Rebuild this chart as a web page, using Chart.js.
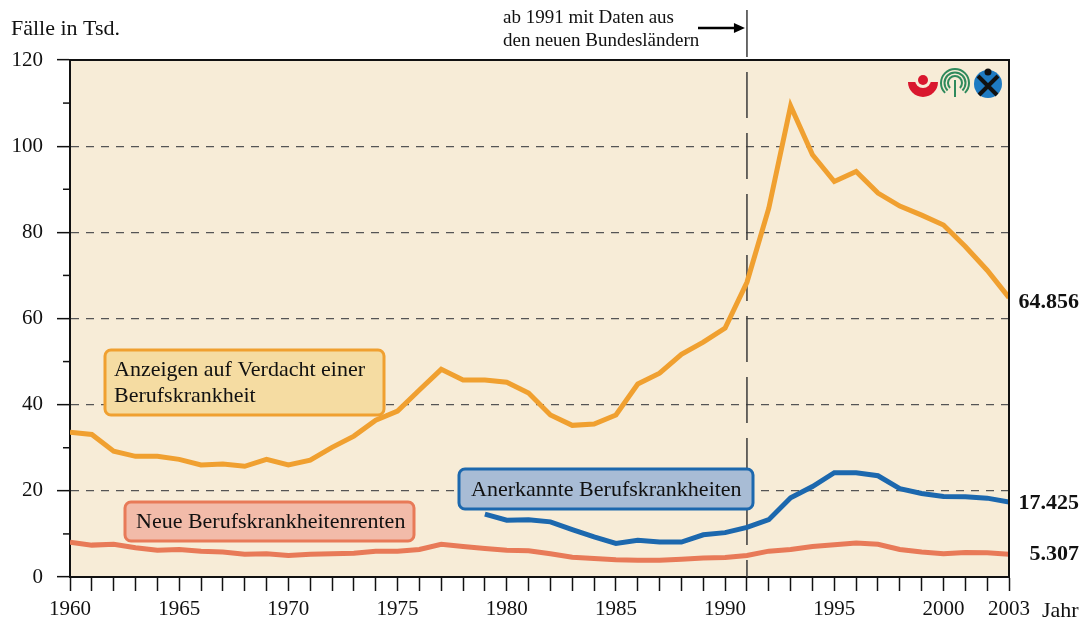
<!DOCTYPE html>
<html>
<head>
<meta charset="utf-8">
<script src="https://cdn.jsdelivr.net/npm/chart.js@4.4.1/dist/chart.umd.min.js"></script>
<style>
  html, body { margin: 0; padding: 0; background: #fff; }
  #wrap { width: 1081px; height: 623px; position: relative; }
</style>
</head>
<body>
<div id="wrap"><canvas id="bkChart"></canvas></div>
<script>
// years 1960..2003
const years = [];
for (let y = 1960; y <= 2003; y++) years.push(y);

const labelYears = [1960, 1965, 1970, 1975, 1980, 1985, 1990, 1995, 2000, 2003];

// Anzeigen auf Verdacht einer Berufskrankheit (Tsd.)
const anzeigen = [
  33.6, 33.1, 29.2, 28.0, 28.0, 27.3, 26.0, 26.2, 25.7, 27.3,
  26.0, 27.1, 30.1, 32.7, 36.4, 38.5, 43.4, 48.2, 45.7, 45.7,
  45.2, 42.7, 37.6, 35.2, 35.5, 37.6, 44.8, 47.3, 51.7, 54.5,
  57.8, 68.4, 85.6, 109.3, 98.0, 91.8, 94.1, 89.1, 86.1, 84.0,
  81.7, 76.7, 71.2, 64.856
];

// Anerkannte Berufskrankheiten (from 1979)
const anerkannt = [
  null, null, null, null, null, null, null, null, null, null,
  null, null, null, null, null, null, null, null, null, 14.6,
  13.2, 13.3, 12.8, 11.0, 9.3, 7.8, 8.5, 8.1, 8.1, 9.8,
  10.3, 11.5, 13.3, 18.4, 21.0, 24.2, 24.2, 23.5, 20.5, 19.4,
  18.7, 18.6, 18.3, 17.425
];

// Neue Berufskrankheitenrenten
const renten = [
  8.1, 7.4, 7.6, 6.8, 6.2, 6.4, 6.0, 5.8, 5.3, 5.4,
  5.0, 5.3, 5.4, 5.5, 6.0, 6.0, 6.4, 7.6, 7.1, 6.6,
  6.2, 6.1, 5.4, 4.6, 4.3, 4.0, 3.9, 3.9, 4.1, 4.4,
  4.5, 5.0, 6.0, 6.4, 7.1, 7.5, 7.9, 7.6, 6.4, 5.8,
  5.4, 5.7, 5.6, 5.307
];

const serif = '"Liberation Serif", "Times New Roman", serif';
const cOrange = '#F0A030';
const cBlue = '#1C68AE';
const cRed = '#E87A58';
const plotBg = '#F7ECD7';

const toPoints = arr => years.map((y, i) => ({ x: y, y: arr[i] }));

function roundBox(ctx, x, y, w, h, r, fill, stroke, lines) {
  ctx.save();
  ctx.beginPath();
  ctx.roundRect(x, y, w, h, r);
  ctx.fillStyle = fill;
  ctx.fill();
  ctx.lineWidth = 3;
  ctx.strokeStyle = stroke;
  ctx.stroke();
  ctx.fillStyle = '#111';
  ctx.font = '22px ' + serif;
  ctx.textBaseline = 'middle';
  ctx.textAlign = 'left';
  lines.forEach(l => ctx.fillText(l.t, l.x, l.y));
  ctx.restore();
}

const decor = {
  id: 'decor',
  beforeDraw(chart) {
    const { ctx, chartArea: a } = chart;
    ctx.save();
    ctx.fillStyle = plotBg;
    ctx.fillRect(a.left, a.top, a.right - a.left, a.bottom - a.top);
    ctx.restore();
  },
  beforeDatasetsDraw(chart) {
    const { ctx, chartArea: a, scales } = chart;
    const x91 = scales.x.getPixelForValue(1991);
    ctx.save();
    ctx.strokeStyle = '#3a3a3a';
    ctx.lineWidth = 1.5;
    // solid part above the plot
    ctx.beginPath();
    ctx.moveTo(x91, 10);
    ctx.lineTo(x91, a.top - 3);
    ctx.stroke();
    // dashed part inside the plot
    ctx.setLineDash([46, 15]);
    ctx.beginPath();
    ctx.moveTo(x91, a.top + 12);
    ctx.lineTo(x91, a.bottom);
    ctx.stroke();
    ctx.restore();

    // minor y ticks
    ctx.save();
    ctx.strokeStyle = '#111';
    ctx.lineWidth = 1.5;
    for (let v = 10; v < 120; v += 20) {
      const py = scales.y.getPixelForValue(v);
      ctx.beginPath();
      ctx.moveTo(a.left - 7, py);
      ctx.lineTo(a.left, py);
      ctx.stroke();
    }
    ctx.restore();
  },
  afterDatasetsDraw(chart) {
    const { ctx, chartArea: a, scales } = chart;
    ctx.save();
    // top and right frame
    ctx.strokeStyle = '#111';
    ctx.lineWidth = 2;
    ctx.beginPath();
    ctx.moveTo(a.left, a.top);
    ctx.lineTo(a.right, a.top);
    ctx.lineTo(a.right, a.bottom);
    ctx.stroke();

    // axis title and annotation text
    ctx.fillStyle = '#111';
    ctx.font = '22px ' + serif;
    ctx.textBaseline = 'middle';
    ctx.textAlign = 'left';
    ctx.fillText('Fälle in Tsd.', 11, 29);
    ctx.fillText('Jahr', 1042, 611);
    ctx.font = '19px ' + serif;
    ctx.fillText('ab 1991 mit Daten aus', 503, 18);
    ctx.fillText('den neuen Bundesländern', 503, 41);

    // arrow
    const x91 = scales.x.getPixelForValue(1991);
    ctx.strokeStyle = '#000';
    ctx.lineWidth = 2.5;
    ctx.beginPath();
    ctx.moveTo(698, 28);
    ctx.lineTo(x91 - 6, 28);
    ctx.stroke();
    ctx.beginPath();
    ctx.moveTo(x91 - 2, 28);
    ctx.lineTo(x91 - 13, 23);
    ctx.lineTo(x91 - 13, 33);
    ctx.closePath();
    ctx.fillStyle = '#000';
    ctx.fill();

    // end value labels
    ctx.font = 'bold 22px ' + serif;
    ctx.textAlign = 'right';
    const ends = [anzeigen, anerkannt, renten];
    const offs = [5, 1, 0];
    ends.forEach((arr, i) => {
      const v = arr[arr.length - 1];
      ctx.fillStyle = '#111';
      ctx.fillText(v.toFixed(3), 1079, scales.y.getPixelForValue(v) + offs[i]);
    });
    ctx.restore();

    // series label boxes
    roundBox(ctx, 105, 350, 279, 65, 6, '#F5DCA2', cOrange, [
      { t: 'Anzeigen auf Verdacht einer', x: 114, y: 370 },
      { t: 'Berufskrankheit', x: 114, y: 396 }
    ]);
    roundBox(ctx, 125, 502, 289, 39, 6, '#F2BBA9', cRed, [
      { t: 'Neue Berufskrankheitenrenten', x: 136, y: 522 }
    ]);
    roundBox(ctx, 459, 469, 294, 40, 6, '#A8BCD5', cBlue, [
      { t: 'Anerkannte Berufskrankheiten', x: 471, y: 490 }
    ]);

    // small logos top right
    ctx.save();
    // red
    ctx.fillStyle = '#D9172E';
    ctx.beginPath();
    ctx.arc(923, 82, 15, 0, Math.PI);
    ctx.closePath();
    ctx.fill();
    ctx.fillStyle = plotBg;
    ctx.beginPath();
    ctx.arc(923, 80, 8, 0, Math.PI * 2);
    ctx.fill();
    ctx.fillStyle = '#D9172E';
    ctx.beginPath();
    ctx.arc(923, 80, 5, 0, Math.PI * 2);
    ctx.fill();
    // green
    ctx.strokeStyle = '#2F8A5C';
    ctx.lineWidth = 2;
    [14, 10.5, 7].forEach(r => {
      ctx.beginPath();
      ctx.arc(955, 83, r, Math.PI * 0.75, Math.PI * 2.25);
      ctx.stroke();
    });
    ctx.beginPath();
    ctx.moveTo(955, 80);
    ctx.lineTo(955, 97);
    ctx.stroke();
    // blue
    ctx.fillStyle = '#1E7AC2';
    ctx.beginPath();
    ctx.arc(988, 84, 14, 0, Math.PI * 2);
    ctx.fill();
    ctx.strokeStyle = '#111';
    ctx.lineWidth = 4;
    ctx.beginPath();
    ctx.moveTo(978, 76); ctx.lineTo(997, 95);
    ctx.moveTo(998, 76); ctx.lineTo(979, 95);
    ctx.stroke();
    ctx.fillStyle = '#111';
    ctx.beginPath();
    ctx.arc(988, 72, 3.5, 0, Math.PI * 2);
    ctx.fill();
    ctx.restore();
  }
};

new Chart(document.getElementById('bkChart'), {
  type: 'line',
  data: {
    datasets: [
      { label: 'Anzeigen', data: toPoints(anzeigen), borderColor: cOrange, borderWidth: 5, pointRadius: 0, tension: 0 },
      { label: 'Anerkannte', data: toPoints(anerkannt), borderColor: cBlue, borderWidth: 5, pointRadius: 0, tension: 0 },
      { label: 'Renten', data: toPoints(renten), borderColor: cRed, borderWidth: 5, pointRadius: 0, tension: 0 }
    ]
  },
  options: {
    responsive: true,
    maintainAspectRatio: false,
    animation: false,
    layout: { padding: { top: 60, right: 72, left: 0, bottom: 0 } },
    plugins: { legend: { display: false }, tooltip: { enabled: false } },
    scales: {
      x: {
        type: 'linear',
        min: 1960,
        max: 2003,
        afterBuildTicks: s => { s.ticks = years.map(v => ({ value: v })); },
        afterFit: s => { s.height = 46; },
        ticks: {
          autoSkip: false,
          maxRotation: 0,
          padding: 6,
          color: '#111',
          font: { family: serif, size: 21 },
          callback: v => labelYears.includes(v) ? String(v) : ''
        },
        grid: { drawOnChartArea: false, tickLength: 14, tickColor: '#111', tickWidth: 1.5 },
        border: { color: '#111', width: 2 }
      },
      y: {
        min: 0,
        max: 120,
        afterFit: s => { s.width = 70; },
        ticks: {
          stepSize: 20,
          padding: 14,
          color: '#111',
          font: { family: serif, size: 21 }
        },
        grid: {
          color: c => (c.tick.value === 0 || c.tick.value === 120) ? 'rgba(0,0,0,0)' : '#555',
          lineWidth: 1.3,
          tickLength: 13,
          tickColor: '#111',
          tickWidth: 1.5,
          tickBorderDash: []
        },
        border: { color: '#111', width: 2, dash: [8, 7] }
      }
    }
  },
  plugins: [decor]
});
</script>
</body>
</html>
